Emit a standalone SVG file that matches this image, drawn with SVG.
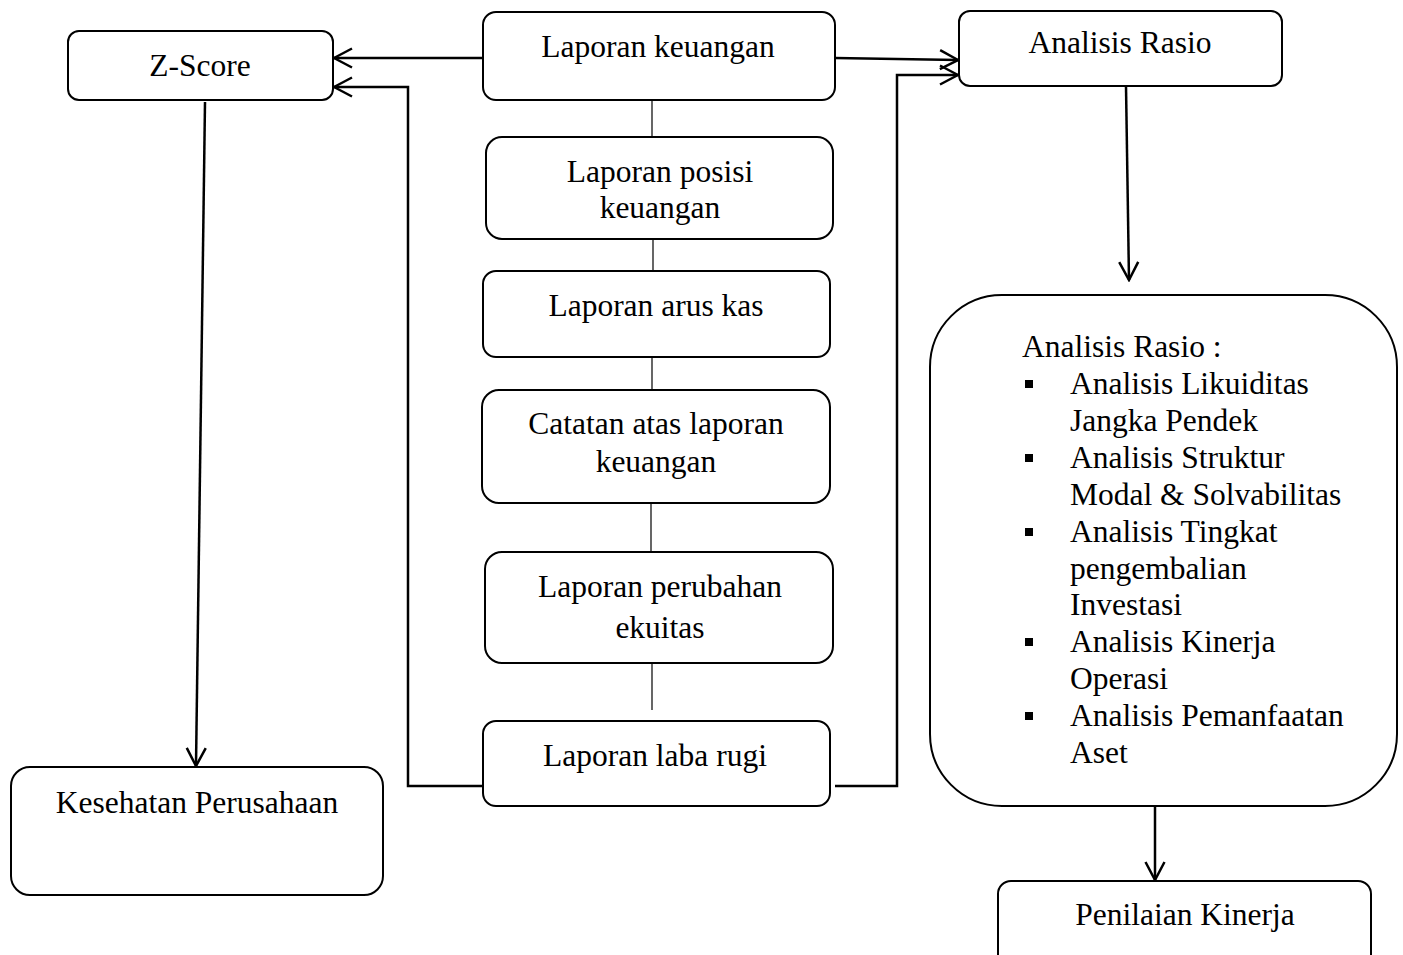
<svg xmlns="http://www.w3.org/2000/svg" width="1403" height="955" viewBox="0 0 1403 955">
<defs>
<style>
.box{fill:#fff;stroke:#000;stroke-width:2}
.t{font-family:"Liberation Serif","Times New Roman",serif;font-size:31.5px;fill:#000}
.c{text-anchor:middle}
.arr{fill:none;stroke:#000;stroke-width:2.5;marker-end:url(#ah)}
.thin{fill:none;stroke:#000;stroke-width:1.2}
</style>
<marker id="ah" markerUnits="userSpaceOnUse" viewBox="-22 -12 24 24" markerWidth="24" markerHeight="24" refX="0" refY="0" orient="auto">
<path d="M-18,-9.5 L0,0 L-18,9.5" fill="none" stroke="#000" stroke-width="2.5"/>
</marker>
</defs>
<rect width="1403" height="955" fill="#fff"/>
<g id="connectors">
<path class="arr" d="M483,58 L334,58"/>
<path class="arr" d="M483,786 L408,786 L408,87 L334,87"/>
<path class="arr" d="M835,58 L958,60"/>
<path class="arr" d="M835,786 L897,786 L897,75 L958,75"/>
<path class="arr" d="M205,102 L196,766"/>
<path class="arr" d="M1126,86 L1129,280"/>
<path class="arr" d="M1155,806 L1155,880"/>
<path class="thin" d="M652,100 L652,137"/>
<path class="thin" d="M653,234 L653,271"/>
<path class="thin" d="M652,357 L652,390"/>
<path class="thin" d="M651,503 L651,552"/>
<path class="thin" d="M652,663 L652,710"/>
</g>
<g id="zscore">
<rect class="box" x="68" y="31" width="265" height="69" rx="11"/>
<text class="t c" x="200" y="76">Z-Score</text>
</g>
<g id="laporan-keuangan">
<rect class="box" x="483" y="12" width="352" height="88" rx="13"/>
<text class="t c" x="658" y="57">Laporan keuangan</text>
</g>
<g id="analisis-rasio">
<rect class="box" x="959" y="11" width="323" height="75" rx="11"/>
<text class="t c" x="1120" y="53">Analisis Rasio</text>
</g>
<g id="laporan-posisi">
<rect class="box" x="486" y="137" width="347" height="102" rx="16"/>
<text class="t c" x="660" y="182">Laporan posisi</text>
<text class="t c" x="660" y="218">keuangan</text>
</g>
<g id="laporan-arus-kas">
<rect class="box" x="483" y="271" width="347" height="86" rx="13"/>
<text class="t c" x="656" y="316">Laporan arus kas</text>
</g>
<g id="catatan">
<rect class="box" x="482" y="390" width="348" height="113" rx="17"/>
<text class="t c" x="656" y="434">Catatan atas laporan</text>
<text class="t c" x="656" y="472">keuangan</text>
</g>
<g id="laporan-perubahan">
<rect class="box" x="485" y="552" width="348" height="111" rx="17"/>
<text class="t c" x="660" y="597">Laporan perubahan</text>
<text class="t c" x="660" y="638">ekuitas</text>
</g>
<g id="laporan-laba-rugi">
<rect class="box" x="483" y="721" width="347" height="85" rx="13"/>
<text class="t c" x="655" y="766">Laporan laba rugi</text>
</g>
<g id="kesehatan">
<rect class="box" x="11" y="767" width="372" height="128" rx="19"/>
<text class="t c" x="197" y="813">Kesehatan Perusahaan</text>
</g>
<g id="analisis-rasio-detail">
<rect class="box" x="930" y="295" width="467" height="511" rx="72"/>
<text class="t" x="1022" y="357">Analisis Rasio :</text>
<g fill="#000">
<rect x="1025" y="380" width="8" height="8"/>
<rect x="1025" y="454" width="8" height="8"/>
<rect x="1025" y="528" width="8" height="8"/>
<rect x="1025" y="638" width="8" height="8"/>
<rect x="1025" y="712" width="8" height="8"/>
</g>
<text class="t" x="1070" y="394">Analisis Likuiditas</text>
<text class="t" x="1070" y="431">Jangka Pendek</text>
<text class="t" x="1070" y="468">Analisis Struktur</text>
<text class="t" x="1070" y="505">Modal &amp; Solvabilitas</text>
<text class="t" x="1070" y="542">Analisis Tingkat</text>
<text class="t" x="1070" y="579">pengembalian</text>
<text class="t" x="1070" y="615">Investasi</text>
<text class="t" x="1070" y="652">Analisis Kinerja</text>
<text class="t" x="1070" y="689">Operasi</text>
<text class="t" x="1070" y="726">Analisis Pemanfaatan</text>
<text class="t" x="1070" y="763">Aset</text>
</g>
<g id="penilaian-kinerja">
<rect class="box" x="998" y="881" width="373" height="110" rx="13"/>
<text class="t c" x="1185" y="925">Penilaian Kinerja</text>
</g>
</svg>
